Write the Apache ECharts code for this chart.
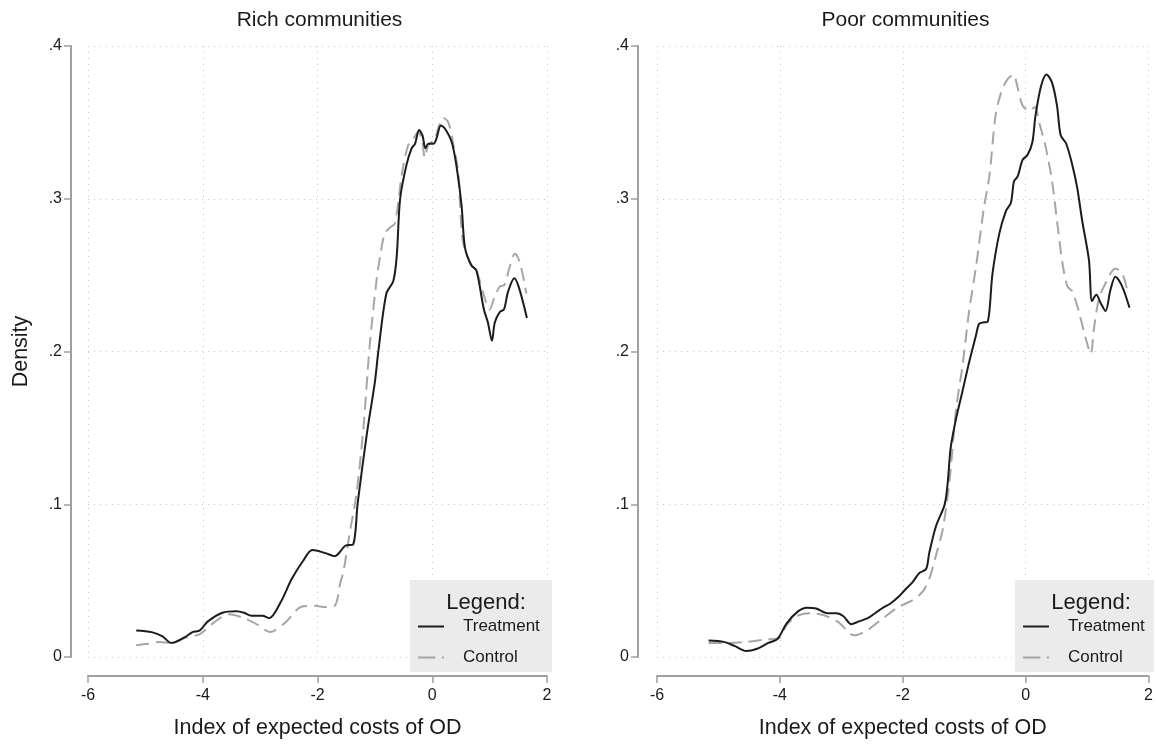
<!DOCTYPE html>
<html>
<head>
<meta charset="utf-8">
<script src="https://cdn.jsdelivr.net/npm/echarts@6/dist/echarts.min.js"></script>
<style>
html,body{margin:0;padding:0;background:#fff;}
#chart{width:1156px;height:744px;}
</style>
</head>
<body>
<div id="chart"></div>
<script>
// ---- Data ----
const panelTitles = ["Rich communities", "Poor communities"];
const seriesNames = ["Treatment", "Control"];
const xTicks = [-6, -4, -2, 0, 2];
const yTicks = [0, 0.1, 0.2, 0.3, 0.4];
const yTickLabels = ["0", ".1", ".2", ".3", ".4"];
const xAxisTitle = "Index of expected costs of OD";
const yAxisTitle = "Density";

const richTreatX = [-5.16,-4.89,-4.70,-4.55,-4.31,-4.18,-4.05,-3.92,-3.66,-3.41,-3.28,-3.15,-2.96,-2.84,-2.64,-2.45,-2.25,-2.09,-1.86,-1.70,-1.51,-1.38,-1.30,-1.14,-1.00,-0.94,-0.80,-0.68,-0.62,-0.56,-0.45,-0.36,-0.30,-0.23,-0.17,-0.12,-0.07,0.02,0.07,0.15,0.22,0.34,0.42,0.51,0.57,0.68,0.77,0.90,0.97,1.04,1.09,1.18,1.25,1.32,1.43,1.51,1.65];
const richTreatY = [0.0174,0.0163,0.0135,0.0092,0.0130,0.0163,0.0174,0.0230,0.0290,0.0300,0.0290,0.0270,0.0270,0.0254,0.0360,0.0510,0.0630,0.0700,0.0680,0.0660,0.0730,0.0737,0.1006,0.1460,0.1800,0.2000,0.2380,0.2460,0.2620,0.3000,0.3220,0.3330,0.3360,0.3450,0.3415,0.3330,0.3360,0.3360,0.3390,0.3480,0.3460,0.3370,0.3220,0.2960,0.2680,0.2565,0.2530,0.2275,0.2190,0.2070,0.2190,0.2260,0.2275,0.2390,0.2480,0.2420,0.2220];

const richCtrlX = [-5.16,-4.95,-4.76,-4.55,-4.31,-4.05,-3.79,-3.54,-3.28,-3.02,-2.83,-2.57,-2.28,-2.05,-1.86,-1.70,-1.60,-1.55,-1.44,-1.32,-1.20,-1.09,-0.97,-0.91,-0.83,-0.74,-0.65,-0.53,-0.42,-0.33,-0.25,-0.18,-0.13,-0.07,0.04,0.12,0.19,0.28,0.36,0.45,0.53,0.66,0.77,0.89,1.00,1.09,1.18,1.26,1.35,1.44,1.53,1.64];
const richCtrlY = [0.0077,0.0086,0.0099,0.0092,0.0125,0.0150,0.0230,0.0280,0.0254,0.0206,0.0163,0.0222,0.0329,0.0335,0.0327,0.0335,0.0490,0.0555,0.0810,0.1070,0.1500,0.2040,0.2470,0.2620,0.2770,0.2810,0.2840,0.3160,0.3350,0.3390,0.3437,0.3390,0.3270,0.3350,0.3390,0.3480,0.3530,0.3500,0.3370,0.3180,0.2730,0.2580,0.2530,0.2380,0.2275,0.2363,0.2426,0.2437,0.2555,0.2640,0.2580,0.2380];

const poorTreatX = [-5.16,-4.91,-4.73,-4.55,-4.37,-4.19,-4.04,-3.89,-3.71,-3.56,-3.41,-3.23,-3.08,-2.96,-2.84,-2.72,-2.57,-2.44,-2.32,-2.20,-2.07,-1.97,-1.84,-1.73,-1.62,-1.57,-1.46,-1.32,-1.27,-1.22,-1.13,-1.03,-0.92,-0.81,-0.76,-0.70,-0.62,-0.54,-0.43,-0.32,-0.24,-0.19,-0.13,-0.05,0.03,0.11,0.16,0.25,0.34,0.43,0.51,0.57,0.66,0.76,0.84,0.92,1.03,1.08,1.15,1.22,1.30,1.38,1.46,1.57,1.69];
const poorTreatY = [0.0108,0.0099,0.0071,0.0039,0.0054,0.0092,0.0118,0.0220,0.0297,0.0323,0.0318,0.0286,0.0286,0.0265,0.0215,0.0232,0.0254,0.0290,0.0323,0.0350,0.0394,0.0437,0.0490,0.0550,0.0576,0.0680,0.0856,0.0996,0.1135,0.1370,0.1566,0.1737,0.1930,0.2103,0.2180,0.2190,0.2194,0.2510,0.2770,0.2920,0.2974,0.3114,0.3146,0.3254,0.3286,0.3372,0.3544,0.3737,0.3813,0.3759,0.3610,0.3415,0.3360,0.3220,0.3070,0.2856,0.2598,0.2330,0.2372,0.2318,0.2265,0.2404,0.2490,0.2426,0.2286];

const poorCtrlX = [-5.16,-4.85,-4.55,-4.25,-4.01,-3.89,-3.71,-3.47,-3.26,-3.05,-2.79,-2.57,-2.32,-2.09,-1.84,-1.68,-1.57,-1.45,-1.35,-1.24,-1.13,-1.03,-0.92,-0.81,-0.68,-0.59,-0.49,-0.40,-0.30,-0.20,-0.13,-0.05,0.06,0.15,0.22,0.33,0.43,0.51,0.60,0.68,0.76,0.87,0.98,1.06,1.11,1.19,1.30,1.46,1.57,1.65];
const poorCtrlY = [0.0092,0.0092,0.0099,0.0114,0.0125,0.0210,0.0270,0.0286,0.0270,0.0228,0.0142,0.0178,0.0254,0.0323,0.0372,0.0426,0.0510,0.0680,0.0834,0.1150,0.1630,0.1900,0.2265,0.2550,0.2940,0.3150,0.3544,0.3695,0.3780,0.3813,0.3727,0.3610,0.3576,0.3600,0.3500,0.3330,0.3114,0.2856,0.2576,0.2426,0.2394,0.2254,0.2082,0.1985,0.2146,0.2340,0.2447,0.2544,0.2512,0.2404];

// ---- Build chart ----
function pairs(xs, ys){ return xs.map((x,i)=>[x, ys[i]]); }

const FONT = "Liberation Sans, Arial, sans-serif";
const TXT = "#1a1a1a";
const AXIS = "#a0a0a0";
const GRIDC = "#c4c4c4";

const panels = [
  {left:88, width:459, yOff:17, treat:pairs(richTreatX, richTreatY), ctrl:pairs(richCtrlX, richCtrlY), yName:yAxisTitle, legendLeft:410, legPadR:12},
  {left:657, width:493, yOff:19, treat:pairs(poorTreatX, poorTreatY), ctrl:pairs(poorCtrlX, poorCtrlY), yName:"", legendLeft:1015, legPadR:9}
];

const option = {
  animation:false,
  backgroundColor:"#ffffff",
  title:[],
  grid:[], xAxis:[], yAxis:[], series:[], legend:[]
};

panels.forEach((p, i) => {
  option.title.push({
    text: panelTitles[i], left: p.left + p.width/2 - 3, top: 5, textAlign:"center",
    textStyle:{fontFamily:FONT, fontSize:21, fontWeight:"normal", color:TXT}
  });
  option.title.push({
    text: "Legend:", left: p.legendLeft + 71, top: 587, textAlign:"center",
    textStyle:{fontFamily:FONT, fontSize:22, fontWeight:"normal", color:TXT}
  });
  option.grid.push({left:p.left, top:46, width:p.width, height:620, containLabel:false});
  option.xAxis.push({
    type:"value", gridIndex:i, min:xTicks[0], max:xTicks[xTicks.length-1], interval:2,
    offset:19,
    axisLine:{show:true, onZero:false, lineStyle:{color:AXIS, width:2}},
    axisTick:{show:true, length:7, lineStyle:{color:AXIS, width:1.5}},
    axisLabel:{fontFamily:FONT, fontSize:16, color:TXT, margin:12},
    splitLine:{show:true, lineStyle:{color:GRIDC, width:1, type:[1,5]}},
    name:xAxisTitle, nameLocation:"middle", nameGap:41,
    nameTextStyle:{fontFamily:FONT, fontSize:21.5, color:TXT}
  });
  option.yAxis.push({
    type:"value", gridIndex:i, min:yTicks[0], max:yTicks[yTicks.length-1], interval:0.1,
    offset:p.yOff,
    axisLine:{show:true, onZero:false, lineStyle:{color:AXIS, width:2}},
    axisTick:{show:true, length:7, lineStyle:{color:AXIS, width:1.5}},
    axisLabel:{fontFamily:FONT, fontSize:16, color:TXT, margin:9,
      formatter:(v)=>{ const k = yTicks.findIndex(t=>Math.abs(t-v)<1e-9); return k>=0 ? yTickLabels[k] : ""; }},
    splitLine:{show:true, lineStyle:{color:GRIDC, width:1, type:[1,5]}},
    name:p.yName, nameLocation:"middle", nameGap:39, nameRotate:90,
    nameTextStyle:{fontFamily:FONT, fontSize:21.5, color:TXT}
  });
  option.series.push({
    name:seriesNames[1], type:"line", xAxisIndex:i, yAxisIndex:i, data:p.ctrl,
    showSymbol:false, symbol:"none", smooth:0.3,
    lineStyle:{color:"#a6a6a6", width:2, type:[13,7]}, itemStyle:{color:"#a6a6a6"}
  });
  option.series.push({
    name:seriesNames[0], type:"line", xAxisIndex:i, yAxisIndex:i, data:p.treat,
    showSymbol:false, symbol:"none", smooth:0.3,
    lineStyle:{color:"#1c1c1c", width:2}, itemStyle:{color:"#1c1c1c"}
  });
  option.legend.push({
    orient:"vertical",
    left:p.legendLeft, top:580,
    padding:[38, p.legPadR, 6, 8], itemGap:14, itemWidth:26, itemHeight:14,
    backgroundColor:"#ebebeb", borderWidth:0,
    selectedMode:false,
    textStyle:{fontFamily:FONT, fontSize:17, color:TXT, padding:[0,0,0,14]},
    data:[
      {name:seriesNames[0], icon:"path://M0,6 L26,6 L26,8 L0,8 Z", itemStyle:{color:"#1c1c1c"}},
      {name:seriesNames[1], icon:"path://M0,6 L16,6 L16,8 L0,8 Z M22,6 L24,6 L24,8 L22,8 Z", itemStyle:{color:"#a6a6a6"}}
    ]
  });
});

const chart = echarts.init(document.getElementById("chart"), null, {renderer:"canvas"});
chart.setOption(option);
</script>
</body>
</html>
